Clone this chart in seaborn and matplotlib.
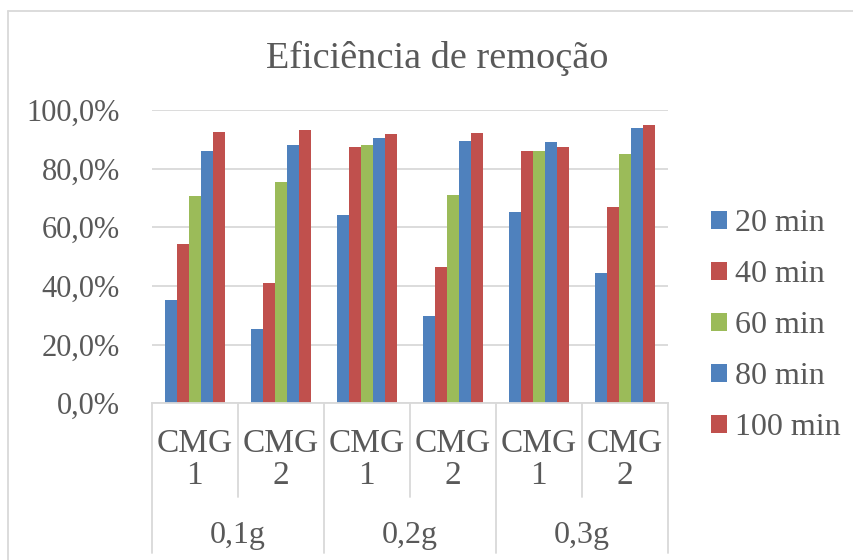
import seaborn as sns
import matplotlib.pyplot as plt
import pandas as pd
from matplotlib.lines import Line2D
from matplotlib.ticker import FuncFormatter

# ======= dados =======
massas = ["0,1g", "0,2g", "0,3g"]
amostras = ["CMG\n1", "CMG\n2"]
tempos = ["20 min", "40 min", "60 min", "80 min", "100 min"]

# eficiência por categoria (0,1g CMG1, 0,1g CMG2, 0,2g CMG1, ...)
ef_20 = [0.352, 0.252, 0.642, 0.298, 0.653, 0.444]
ef_40 = [0.542, 0.411, 0.874, 0.465, 0.860, 0.670]
ef_60 = [0.707, 0.753, 0.882, 0.711, 0.860, 0.850]
ef_80 = [0.860, 0.880, 0.906, 0.894, 0.892, 0.939]
ef_100 = [0.925, 0.931, 0.918, 0.922, 0.873, 0.950]

cores = ["#4F81BD", "#C0504D", "#9BBB59", "#4F81BD", "#C0504D"]
# ========================================

categorias = [f"{m} {a}" for m in massas for a in amostras]
series = [ef_20, ef_40, ef_60, ef_80, ef_100]
df = pd.DataFrame([
    {"cat": c, "tempo": t, "ef": v}
    for t, vals in zip(tempos, series)
    for c, v in zip(categorias, vals)
])

cinza = "#595959"
linha = "#D9D9D9"
fonte = "Liberation Serif"

sns.set_theme(style="white")
plt.rcParams["font.family"] = [fonte, "DejaVu Serif"]

fig = plt.figure(figsize=(8.54, 5.6), dpi=100)
ax = fig.add_axes([0.1776, 0.2798, 0.6042, 0.5238])

sns.barplot(data=df, x="cat", y="ef", hue="tempo", order=categorias,
            hue_order=tempos, palette=cores, width=0.7, gap=0,
            saturation=1, ax=ax, edgecolor="none", err_kws={"linewidth": 0})

ax.set_ylim(0, 1.0)
ax.set_xlim(-0.5, len(categorias) - 0.5)
ax.set_yticks([0, 0.2, 0.4, 0.6, 0.8, 1.0])
ax.yaxis.set_major_formatter(FuncFormatter(lambda v, p: f"{v*100:.1f}%".replace(".", ",")))
ax.grid(axis="y", color=linha, linewidth=1.3)
ax.set_axisbelow(True)
for s in ["top", "right", "left"]:
    ax.spines[s].set_visible(False)
ax.spines["bottom"].set_color(linha)
ax.spines["bottom"].set_linewidth(1.3)
ax.tick_params(axis="y", length=0, pad=23, labelsize=22, labelcolor=cinza)
ax.set_xticks([])
ax.set_xlabel("")
ax.set_ylabel("")

# eixo x em dois níveis
tr = ax.get_xaxis_transform()
for i in range(len(categorias) + 1):
    x = i - 0.5
    y_fim = -0.51 if i % 2 == 0 else -0.318
    ax.add_line(Line2D([x, x], [0, y_fim], transform=tr, color=linha,
                       linewidth=1.3, clip_on=False))
for i, c in enumerate(categorias):
    a = c.split(" ", 1)[1]
    ax.text(i, -0.193, a, transform=tr, ha="center", va="center",
            fontsize=24, color=cinza, linespacing=1.08)
for j, m in enumerate(massas):
    ax.text(2 * j + 0.5, -0.452, m, transform=tr, ha="center", va="center",
            fontsize=23, color=cinza)

# legenda
h, l = ax.get_legend_handles_labels()
ax.legend(h, l, loc="center left", bbox_to_anchor=(1.059, 0.264), frameon=False,
          fontsize=23, labelcolor=cinza, handlelength=0.5, handleheight=0.5,
          handletextpad=0.25, labelspacing=0.69, borderaxespad=0)

fig.text(437 / 854, 0.878, "Eficiência de remoção", ha="center", va="baseline",
         fontsize=27.5, color=cinza)

# borda do gráfico
fig.add_artist(Line2D([0.00995, 1.0], [0.9795, 0.9795], color=linha, linewidth=1.3))
fig.add_artist(Line2D([0.00995, 0.00995], [0.0, 0.9795], color=linha, linewidth=1.3))

fig.savefig("out.png", dpi=100, facecolor="white")
